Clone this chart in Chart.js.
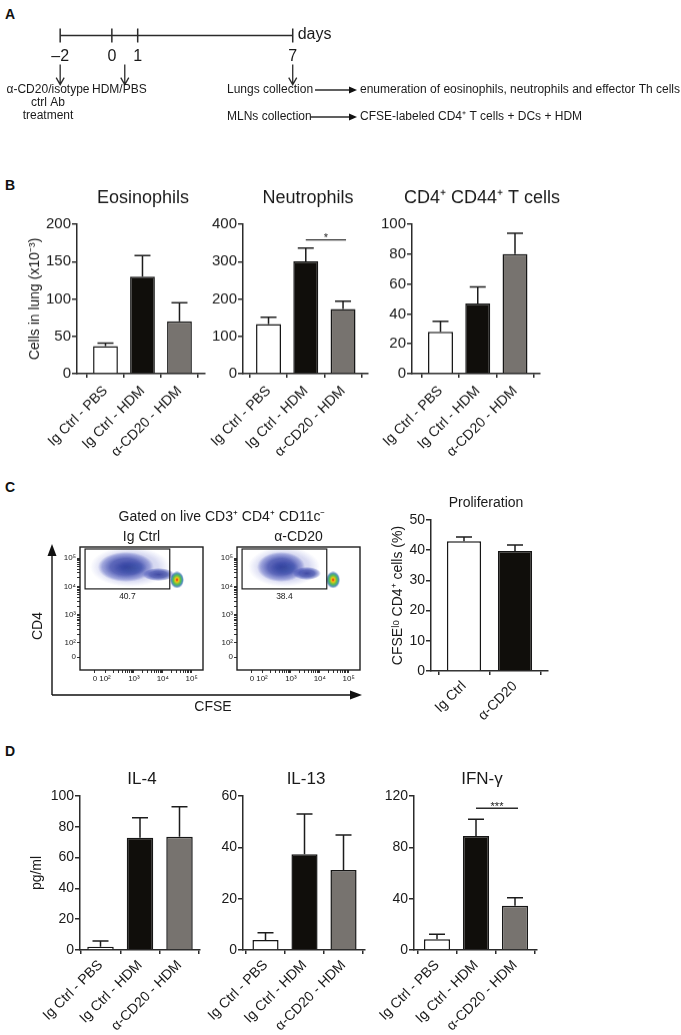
<!DOCTYPE html>
<html><head><meta charset="utf-8"><title>Figure</title>
<script src="https://cdn.jsdelivr.net/npm/chart.js@4.4.1/dist/chart.umd.min.js"></script>
<style>
html,body{margin:0;padding:0;background:#fff;}
body{width:681px;height:1035px;position:relative;overflow:hidden;}
canvas{position:absolute;}
.pl{position:absolute;font-family:"Liberation Sans",Arial,sans-serif;font-weight:bold;font-size:14px;line-height:14px;color:#111;}
</style></head><body>
<div class="pl" style="left:5px;top:7px">A</div>
<div class="pl" style="left:5px;top:178px">B</div>
<div class="pl" style="left:5px;top:480px">C</div>
<div class="pl" style="left:5px;top:744px">D</div>
<canvas id="cA"></canvas>
<canvas id="cEos"></canvas>
<canvas id="cNeu"></canvas>
<canvas id="cCd44"></canvas>
<canvas id="cFlow1"></canvas>
<canvas id="cFlow2"></canvas>
<canvas id="cProlif"></canvas>
<canvas id="cIl4"></canvas>
<canvas id="cIl13"></canvas>
<canvas id="cIfng"></canvas>
<script>
// ---------------- DATA ----------------
const timelineDays = [-2, 0, 1, 7];
const timelineDayLabels = ['\u20132', '0', '1', '7'];
const timelineUnit = 'days';
const timelineArrowDays = [-2, 0.5, 7];

const groups3 = ['Ig Ctrl - PBS', 'Ig Ctrl - HDM', '\u03b1-CD20 - HDM'];
const groups2 = ['Ig Ctrl', '\u03b1-CD20'];

const eosMean  = [37, 130, 70];
const eosSem   = [4, 28, 25];
const neuMean  = [133, 301, 173];
const neuSem   = [18, 35, 21];
const cd44Mean = [28, 47, 80];
const cd44Sem  = [7, 11, 14];

const prolifMean = [43, 39.7];
const prolifSem  = [1.4, 2];

const il4Mean  = [2.1, 72.9, 73.6];
const il4Sem   = [3.7, 13, 19.5];
const il13Mean = [3.9, 37.3, 31.2];
const il13Sem  = [2.8, 15.7, 13.6];
const ifngMean = [8.3, 88.9, 34.5];
const ifngSem  = [3.9, 13, 6.3];

const neuSig  = {from: 1, to: 2, value: 358, text: '*'};
const ifngSig = {from: 1, to: 2, value: 110.5, text: '***'};

// flow cytometry, axis units = log10 decades (biexponential "0" position)
const flowXTickValues = [1.65, 2, 3, 4, 5];
const flowYTickValues = [1.5, 2, 3, 4, 5];
const flowTickLabels  = ['0', '10\u00b2', '10\u00b3', '10\u2074', '10\u2075'];
const flowGatePct = ['40.7', '38.4'];
const flowGate = [1.31, 4.24, 3.91, 5.32]; // xLo, xHi, yLo, yHi
// population centres (CFSE decade, CD4 decade)
const ctrlHalo  = [{x: 2.86, y: 4.69}];
const ctrlMain  = [{x: 2.72, y: 4.69}];
const ctrlTail  = [{x: 3.85, y: 4.42}];
const ctrlCore  = [{x: 2.86, y: 4.65}];
const ctrlPeak  = [{x: 4.49, y: 4.23}];
const cd20Halo  = [{x: 2.76, y: 4.69}];
const cd20Main  = [{x: 2.66, y: 4.69}];
const cd20Tail  = [{x: 3.55, y: 4.46}];
const cd20Core  = [{x: 2.76, y: 4.65}];
const cd20Peak  = [{x: 4.46, y: 4.23}];

// ---------------- STYLE ----------------
const FONT = '"Liberation Sans", Arial, Helvetica, sans-serif';
Chart.defaults.font.family = FONT;
Chart.defaults.color = '#1a1a1a';
const AX = '#2b2b2b';
const TXT = '#1a1a1a';
const BAR_COLORS3 = ['#ffffff', '#100e0b', '#77736f'];
const BAR_COLORS2 = ['#ffffff', '#100e0b'];

function place(c, left, top, w, h) {
  c.width = w; c.height = h;
  c.style.left = left + 'px'; c.style.top = top + 'px';
  c.style.width = w + 'px'; c.style.height = h + 'px';
}

// soft elliptical density sprite used as point style
function blob(w, h, stops) {
  const c = document.createElement('canvas');
  c.width = w; c.height = h;
  const g = c.getContext('2d');
  g.translate(w / 2, h / 2);
  g.scale(w / 2, h / 2);
  const gr = g.createRadialGradient(0, 0, 0, 0, 0, 1);
  stops.forEach(s => gr.addColorStop(s[0], s[1]));
  g.fillStyle = gr;
  g.beginPath(); g.arc(0, 0, 1, 0, Math.PI * 2); g.fill();
  return c;
}
const HALO_STOPS = [[0, 'rgba(60,70,180,0.35)'], [0.7, 'rgba(80,90,195,0.22)'], [1, 'rgba(100,110,210,0)']];
const MAIN_STOPS = [[0, 'rgba(30,40,140,0.85)'], [0.55, 'rgba(35,50,155,0.7)'], [0.85, 'rgba(50,65,175,0.35)'], [1, 'rgba(60,75,185,0)']];
const CORE_STOPS = [[0, 'rgba(140,215,140,0.75)'], [0.5, 'rgba(80,175,185,0.5)'], [1, 'rgba(40,90,170,0)']];
const PEAK_STOPS = [[0, 'rgba(230,20,20,1)'], [0.25, 'rgba(240,200,20,1)'], [0.55, 'rgba(80,190,80,1)'], [0.8, 'rgba(40,120,170,0.8)'], [1, 'rgba(40,60,170,0)']];

// ---------------- PLUGINS ----------------
const errorBarsPlugin = {
  id: 'errorBars',
  afterDatasetsDraw(chart, args, o) {
    const ds = chart.data.datasets[0];
    if (!ds.errors) return;
    const meta = chart.getDatasetMeta(0), ys = chart.scales.y, ctx = chart.ctx;
    const cap = o.cap || 16;
    ctx.save();
    ctx.strokeStyle = '#1c1c1c'; ctx.lineWidth = 1.5;
    meta.data.forEach((bar, i) => {
      const top = ys.getPixelForValue(ds.data[i].y + ds.errors[i]);
      ctx.beginPath();
      ctx.moveTo(bar.x, bar.y); ctx.lineTo(bar.x, top);
      ctx.moveTo(bar.x - cap / 2, top); ctx.lineTo(bar.x + cap / 2, top);
      ctx.stroke();
    });
    ctx.restore();
  }
};
const panelTitlePlugin = {
  id: 'panelTitle',
  afterDraw(chart, args, o) {
    if (!o.text) return;
    const ctx = chart.ctx, ca = chart.chartArea;
    ctx.save();
    ctx.fillStyle = TXT; ctx.font = (o.size || 17) + 'px ' + FONT;
    ctx.textAlign = 'center'; ctx.textBaseline = 'middle';
    ctx.fillText(o.text, (ca.left + ca.right) / 2 + (o.dx || 0), ca.top - o.offset);
    ctx.restore();
  }
};
const sigPlugin = {
  id: 'sig',
  afterDatasetsDraw(chart, args, o) {
    if (!o || o.value == null) return;
    const xs = chart.scales.x, ys = chart.scales.y, ctx = chart.ctx;
    const y = ys.getPixelForValue(o.value);
    const x1 = xs.getPixelForValue(o.from), x2 = xs.getPixelForValue(o.to) + 3;
    ctx.save();
    ctx.strokeStyle = AX; ctx.lineWidth = 1.4;
    ctx.beginPath(); ctx.moveTo(x1, y); ctx.lineTo(x2, y); ctx.stroke();
    ctx.fillStyle = TXT; ctx.font = '11px ' + FONT;
    ctx.textAlign = 'center'; ctx.textBaseline = 'alphabetic';
    ctx.fillText(o.text, (x1 + x2) / 2, y + 1.5);
    ctx.restore();
  }
};

// ---------------- PANEL A : timeline ----------------
const A_TEXTS = [
  {t: '\u03b1-CD20/isotype', x: 48, y: 90, a: 'center'},
  {t: 'ctrl Ab', x: 48, y: 103, a: 'center'},
  {t: 'treatment', x: 48, y: 116, a: 'center'},
  {t: 'HDM/PBS', x: 92, y: 90, a: 'left'},
  {t: 'Lungs collection', x: 227, y: 90, a: 'left'},
  {t: 'enumeration of eosinophils, neutrophils and effector Th cells', x: 360, y: 90, a: 'left'},
  {t: 'MLNs collection', x: 227, y: 117, a: 'left'},
  {t: 'CFSE-labeled CD4\u207a T cells + DCs + HDM', x: 360, y: 117, a: 'left'}
];
const A_ARROWS = [{x1: 315, x2: 357, y: 90}, {x1: 310, x2: 357, y: 117}];
const timelinePlugin = {
  id: 'timeline',
  afterDraw(chart) {
    const ctx = chart.ctx, xs = chart.scales.x, ys = chart.scales.y;
    const y0 = ys.getPixelForValue(0);
    ctx.save();
    ctx.fillStyle = TXT; ctx.textBaseline = 'middle';
    ctx.font = '16px ' + FONT; ctx.textAlign = 'center';
    timelineDays.forEach((d, i) => ctx.fillText(timelineDayLabels[i], xs.getPixelForValue(d), y0 + 21));
    ctx.textAlign = 'left';
    ctx.fillText(timelineUnit, xs.getPixelForValue(timelineDays[timelineDays.length - 1]) + 5, y0 - 1);
    ctx.strokeStyle = AX; ctx.lineWidth = 1.3;
    timelineArrowDays.forEach(d => {
      const x = xs.getPixelForValue(d);
      ctx.beginPath();
      ctx.moveTo(x, y0 + 29); ctx.lineTo(x, y0 + 49);
      ctx.moveTo(x - 4, y0 + 42); ctx.lineTo(x, y0 + 49); ctx.lineTo(x + 4, y0 + 42);
      ctx.stroke();
    });
    ctx.font = '12px ' + FONT;
    A_TEXTS.forEach(t => { ctx.textAlign = t.a; ctx.fillText(t.t, t.x, t.y); });
    ctx.lineWidth = 1.3; ctx.fillStyle = '#111';
    A_ARROWS.forEach(a => {
      ctx.beginPath(); ctx.moveTo(a.x1, a.y); ctx.lineTo(a.x2 - 6, a.y); ctx.stroke();
      ctx.beginPath(); ctx.moveTo(a.x2, a.y); ctx.lineTo(a.x2 - 8, a.y - 3.5); ctx.lineTo(a.x2 - 8, a.y + 3.5); ctx.closePath(); ctx.fill();
    });
    ctx.restore();
  }
};
(function () {
  const c = document.getElementById('cA');
  const W = 681, H = 135;
  place(c, 0, 0, W, H);
  const PX_START = 53, PX_END = 291.5;
  const dFirst = timelineDays[0], dLast = timelineDays[timelineDays.length - 1];
  const ppd = (PX_END - PX_START) / (dLast - dFirst);
  new Chart(c, {
    type: 'scatter',
    data: {datasets: [
      {data: [{x: dFirst, y: 0}, {x: dLast, y: 0}], showLine: true, borderColor: AX, borderWidth: 1.5, pointRadius: 0},
      {data: timelineDays.map(d => ({x: d, y: 0})), pointStyle: 'line', rotation: 90, pointRadius: 7, borderColor: AX, borderWidth: 1.5, showLine: false}
    ]},
    options: {
      responsive: false, animation: false, events: [], devicePixelRatio: 1,
      layout: {padding: 0},
      plugins: {legend: {display: false}, tooltip: {enabled: false}},
      scales: {
        x: {type: 'linear', display: false, min: dFirst - PX_START / ppd, max: dLast + (W - PX_END) / ppd},
        y: {type: 'linear', display: false, min: 31 - H, max: 31}
      }
    },
    plugins: [timelinePlugin]
  });
})();

// ---------------- BAR CHARTS ----------------
function makeBar(id, area, o) {
  const padTop = 50, padRight = o.padRight || 8;
  const c = document.getElementById(id);
  place(c, area.l - o.yW, area.t - padTop, o.yW + (area.r - area.l) + padRight, padTop + (area.b - area.t) + o.xH);
  const gridCfg = (len) => ({display: true, drawOnChartArea: false, drawTicks: true, tickLength: len, color: AX, lineWidth: 1.5});
  return new Chart(c, {
    type: 'bar',
    data: {datasets: [{
      data: o.mean.map((v, i) => ({x: i, y: v})), errors: o.sem,
      backgroundColor: o.colors, borderColor: '#161616', borderWidth: 1.5,
      barPercentage: 0.67, categoryPercentage: 1
    }]},
    options: {
      responsive: false, animation: false, events: [], devicePixelRatio: 1,
      layout: {padding: {top: padTop, right: padRight, left: 0, bottom: 0}},
      plugins: {
        legend: {display: false}, tooltip: {enabled: false},
        panelTitle: {text: o.title, size: o.titleSize, offset: o.titleOffset, dx: o.titleDx || 0},
        sig: o.sig || {}, errorBars: {cap: o.cap || 16}
      },
      scales: {
        x: {
          type: 'linear', min: o.xmin, max: o.xmax, offset: false,
          afterBuildTicks: s => { s.ticks = o.labels.map((_, i) => ({value: i})); },
          afterFit: s => { s.height = o.xH; },
          ticks: {callback: v => o.labels[v], minRotation: 45, maxRotation: 45, autoSkip: false,
                  font: {size: o.xFont}, color: TXT, padding: o.xPad || 2},
          grid: gridCfg(4), border: {display: true, color: AX, width: 1.5}
        },
        y: {
          type: 'linear', min: 0, max: o.ymax,
          ticks: {stepSize: o.step, font: {size: o.yFont}, color: TXT, padding: 1},
          afterFit: s => { s.width = o.yW; },
          grid: gridCfg(5), border: {display: true, color: AX, width: 1.5},
          title: {display: !!o.ytitle, text: o.ytitle || '', font: {size: 14}, color: TXT,
                  padding: {top: o.ytPad || 0, bottom: 0}}
        }
      }
    },
    plugins: [errorBarsPlugin, panelTitlePlugin, sigPlugin]
  });
}

// Panel B
makeBar('cEos', {l: 77, r: 205, t: 224, b: 373.5}, {
  mean: eosMean, sem: eosSem, labels: groups3, colors: BAR_COLORS3,
  ymax: 200, step: 50, xmin: -0.77, xmax: 2.69, yW: 62, xH: 90,
  title: 'Eosinophils', titleSize: 18, titleOffset: 26, titleDx: 2,
  ytitle: 'Cells in lung (x10\u207b\u00b3)', ytPad: 11.6, xFont: 14, yFont: 15, xPad: 5
});
makeBar('cNeu', {l: 243, r: 368, t: 224, b: 373.5}, {
  mean: neuMean, sem: neuSem, labels: groups3, colors: BAR_COLORS3,
  ymax: 400, step: 100, xmin: -0.685, xmax: 2.67, yW: 48, xH: 90,
  title: 'Neutrophils', titleSize: 18, titleOffset: 26, titleDx: 2.5,
  sig: neuSig, xFont: 14, yFont: 15, xPad: 5
});
makeBar('cCd44', {l: 412, r: 540, t: 224, b: 373.5}, {
  mean: cd44Mean, sem: cd44Sem, labels: groups3, colors: BAR_COLORS3,
  ymax: 100, step: 20, xmin: -0.765, xmax: 2.671, yW: 48, xH: 90, padRight: 40,
  title: 'CD4\u207a CD44\u207a T cells', titleSize: 18, titleOffset: 26, titleDx: 6,
  xFont: 14, yFont: 15, xPad: 5
});

// Panel C proliferation
makeBar('cProlif', {l: 431, r: 548, t: 520, b: 671}, {
  mean: prolifMean, sem: prolifSem, labels: groups2, colors: BAR_COLORS2,
  ymax: 50, step: 10, xmin: -0.647, xmax: 1.647, yW: 51, xH: 60,
  title: 'Proliferation', titleSize: 14, titleOffset: 17, titleDx: -3.5,
  ytitle: 'CFSE\u02e1\u1d52 CD4\u207a cells (%)', ytPad: 9.6, xFont: 14, yFont: 14, cap: 16, xPad: 3
});

// Panel D
makeBar('cIl4', {l: 80, r: 200, t: 796, b: 950}, {
  mean: il4Mean, sem: il4Sem, labels: groups3, colors: BAR_COLORS3,
  ymax: 100, step: 20, xmin: -0.519, xmax: 2.519, yW: 65, xH: 85,
  title: 'IL-4', titleSize: 17, titleOffset: 17, titleDx: 2,
  ytitle: 'pg/ml', ytPad: 13.6, xFont: 14, yFont: 14, xPad: 3
});
makeBar('cIl13', {l: 243, r: 365, t: 796, b: 950}, {
  mean: il13Mean, sem: il13Sem, labels: groups3, colors: BAR_COLORS3,
  ymax: 60, step: 20, xmin: -0.577, xmax: 2.551, yW: 48, xH: 85,
  title: 'IL-13', titleSize: 17, titleOffset: 17, titleDx: 2,
  xFont: 14, yFont: 14, xPad: 3
});
makeBar('cIfng', {l: 414, r: 537, t: 796, b: 950}, {
  mean: ifngMean, sem: ifngSem, labels: groups3, colors: BAR_COLORS3,
  ymax: 120, step: 40, xmin: -0.59, xmax: 2.564, yW: 48, xH: 85,
  title: 'IFN-\u03b3', titleSize: 17, titleOffset: 17, titleDx: 6.5,
  sig: ifngSig, xFont: 14, yFont: 14, xPad: 3
});

// ---------------- PANEL C : flow plots ----------------
const flowPlugin = {
  id: 'flow',
  afterDraw(chart, args, o) {
    const ctx = chart.ctx, ca = chart.chartArea, xs = chart.scales.x, ys = chart.scales.y;
    ctx.save();
    ctx.strokeStyle = '#1e1e1e'; ctx.lineWidth = 1.4;
    ctx.strokeRect(ca.left, ca.top, ca.right - ca.left, ca.bottom - ca.top);
    const gx1 = xs.getPixelForValue(flowGate[0]), gx2 = xs.getPixelForValue(flowGate[1]);
    const gy1 = ys.getPixelForValue(flowGate[3]), gy2 = ys.getPixelForValue(flowGate[2]);
    ctx.lineWidth = 1.2;
    ctx.strokeRect(gx1, gy1, gx2 - gx1, gy2 - gy1);
    ctx.fillStyle = TXT; ctx.font = '8.5px ' + FONT;
    ctx.textAlign = 'center'; ctx.textBaseline = 'middle';
    ctx.fillText(o.pct, (gx1 + gx2) / 2, gy2 + 8);
    ctx.font = '14px ' + FONT;
    ctx.fillText(o.title, (ca.left + ca.right) / 2, ca.top - 10);
    if (o.extra) o.extra(ctx);
    ctx.restore();
  }
};
const flowMinor = [];
[2, 3, 4].forEach(d => { for (let k = 2; k <= 9; k++) flowMinor.push(d + Math.log10(k)); });

function makeFlow(id, box, area, o) {
  const c = document.getElementById(id);
  place(c, box.l, box.t, box.r - box.l, box.b - box.t);
  const yW = area.l - box.l, padTop = area.t - box.t, padRight = box.r - area.r, xH = box.b - area.b;
  const axisCfg = (vals, isX) => ({
    type: 'linear', min: isX ? 1.135 : 1.046, max: 5.39,
    afterBuildTicks: s => { s.ticks = vals.concat(flowMinor).map(v => ({value: v})); },
    ticks: {callback: v => { const i = vals.indexOf(v); return i >= 0 ? flowTickLabels[i] : ''; },
            font: {size: 8}, color: TXT, padding: 1, autoSkip: false, maxRotation: 0, minRotation: 0},
    grid: {display: true, drawOnChartArea: false, drawTicks: true, tickLength: 3, color: '#333', lineWidth: 1},
    border: {display: false}
  });
  const xCfg = axisCfg(flowXTickValues, true); xCfg.afterFit = s => { s.height = xH; };
  const yCfg = axisCfg(flowYTickValues, false); yCfg.afterFit = s => { s.width = yW; };
  const ds = (data, sprite) => ({data, pointStyle: sprite, pointRadius: 10, borderWidth: 0, backgroundColor: 'rgba(0,0,0,0)'});
  return new Chart(c, {
    type: 'scatter',
    data: {datasets: [
      ds(o.halo, blob(o.w + 24, 40, HALO_STOPS)),
      ds(o.main, blob(o.w, 30, MAIN_STOPS)),
      ds(o.tail, blob(o.tw, 13, MAIN_STOPS)),
      ds(o.core, blob(o.w * 0.6, 15, CORE_STOPS)),
      ds(o.peak, blob(14, 17, PEAK_STOPS))
    ]},
    options: {
      responsive: false, animation: false, events: [], devicePixelRatio: 1,
      layout: {padding: {top: padTop, right: padRight, left: 0, bottom: 0}},
      plugins: {legend: {display: false}, tooltip: {enabled: false},
                flow: {pct: o.pct, title: o.title, extra: o.extra}},
      scales: {x: xCfg, y: yCfg}
    },
    plugins: [flowPlugin]
  });
}

const FLOW1_BOX = {l: 0, t: 495, r: 380, b: 720};
function flowDecor(ctx) {
  ctx.save();
  ctx.translate(-FLOW1_BOX.l, -FLOW1_BOX.t);
  ctx.fillStyle = TXT; ctx.font = '14px ' + FONT; ctx.textAlign = 'center'; ctx.textBaseline = 'middle';
  ctx.fillText('Gated on live CD3\u207a CD4\u207a CD11c\u207b', 222, 517);
  ctx.fillText('CFSE', 213, 707);
  ctx.save(); ctx.translate(38, 626); ctx.rotate(-Math.PI / 2); ctx.fillText('CD4', 0, 0); ctx.restore();
  ctx.strokeStyle = '#111'; ctx.fillStyle = '#111'; ctx.lineWidth = 1.4;
  ctx.beginPath(); ctx.moveTo(52, 695); ctx.lineTo(52, 553); ctx.moveTo(52, 695); ctx.lineTo(352, 695); ctx.stroke();
  ctx.beginPath(); ctx.moveTo(52, 544); ctx.lineTo(47.5, 556); ctx.lineTo(56.5, 556); ctx.closePath(); ctx.fill();
  ctx.beginPath(); ctx.moveTo(362, 695); ctx.lineTo(350, 690.5); ctx.lineTo(350, 699.5); ctx.closePath(); ctx.fill();
  ctx.restore();
}
makeFlow('cFlow1', FLOW1_BOX, {l: 80, r: 203, t: 547, b: 670},
  {halo: ctrlHalo, main: ctrlMain, tail: ctrlTail, core: ctrlCore, peak: ctrlPeak, w: 56, tw: 32,
   pct: flowGatePct[0], title: groups2[0], extra: flowDecor});
makeFlow('cFlow2', {l: 190, t: 505, r: 372, b: 700}, {l: 237, r: 360, t: 547, b: 670},
  {halo: cd20Halo, main: cd20Main, tail: cd20Tail, core: cd20Core, peak: cd20Peak, w: 48, tw: 28,
   pct: flowGatePct[1], title: groups2[1]});
</script>
</body></html>
